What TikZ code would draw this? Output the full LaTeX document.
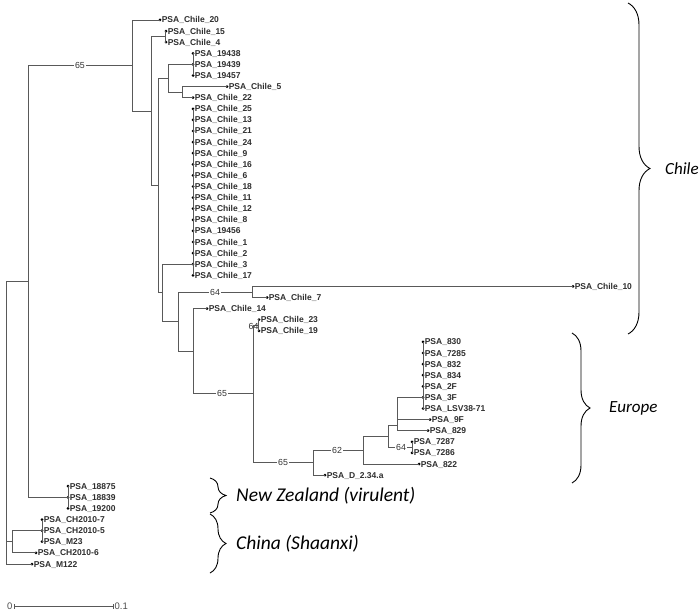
\documentclass[tikz,border=0pt]{standalone}
\usepackage{fontspec}
\setmainfont{Liberation Sans}
\newfontfamily\bracefont{Carlito}
\usetikzlibrary{decorations.pathreplacing}
\tikzset{
  tree/.style={draw=black!65, line width=0.9pt},
  tiplab/.style={anchor=west, inner sep=0pt, xshift=1.6pt, text height=6pt, text depth=0pt,
    font=\fontsize{8.5}{9}\selectfont\bfseries, text=black!82},
  boot/.style={fill=white, inner sep=1pt, text height=6pt, text depth=0pt,
    font=\fontsize{8.8}{9}\selectfont, text=black!80},
  grp/.style={anchor=west, inner sep=0pt, font=\bracefont\itshape\fontsize{17}{20}\selectfont},
  grpbig/.style={grp, font=\bracefont\itshape\fontsize{19.5}{22}\selectfont},
  bracedeco/.style={decorate, decoration={brace, amplitude=#1}, draw=black, line width=0.9pt},
  tipdot/.style={fill=black},
  scalelab/.style={inner sep=1.5pt, font=\fontsize{9.5}{10}\selectfont, text=black!70}
}
\newcommand\tipnode[4]{%
  \coordinate (#1) at (#2,#3);
  \fill[tipdot] (#1) circle (1.5pt);
  \node[tiplab] (#1-l) at (#1) {#4};}
\begin{document}
\begin{tikzpicture}[x=1pt,y=-1pt]
\useasboundingbox (0,0) rectangle (700,612);
% ---------- tips ----------
\tipnode{c20}{160}{20.0}{PSA\_Chile\_20}
\tipnode{c15}{166}{31.1}{PSA\_Chile\_15}
\tipnode{c4}{166}{42.2}{PSA\_Chile\_4}
\tipnode{s19438}{193}{53.3}{PSA\_19438}
\tipnode{s19439}{193}{64.4}{PSA\_19439}
\tipnode{s19457}{193}{75.5}{PSA\_19457}
\tipnode{c5}{227}{86.6}{PSA\_Chile\_5}
\tipnode{c22}{193}{97.7}{PSA\_Chile\_22}
\tipnode{c25}{193}{108.8}{PSA\_Chile\_25}
\tipnode{c13}{193}{119.9}{PSA\_Chile\_13}
\tipnode{c21}{193}{131.0}{PSA\_Chile\_21}
\tipnode{c24}{193}{142.1}{PSA\_Chile\_24}
\tipnode{c9}{193}{153.2}{PSA\_Chile\_9}
\tipnode{c16}{193}{164.3}{PSA\_Chile\_16}
\tipnode{c6}{193}{175.4}{PSA\_Chile\_6}
\tipnode{c18}{193}{186.5}{PSA\_Chile\_18}
\tipnode{c11}{193}{197.6}{PSA\_Chile\_11}
\tipnode{c12}{193}{208.7}{PSA\_Chile\_12}
\tipnode{c8}{193}{219.8}{PSA\_Chile\_8}
\tipnode{s19456}{193}{230.9}{PSA\_19456}
\tipnode{c1}{193}{242.0}{PSA\_Chile\_1}
\tipnode{c2}{193}{253.1}{PSA\_Chile\_2}
\tipnode{c3}{193}{264.2}{PSA\_Chile\_3}
\tipnode{c17}{193}{275.3}{PSA\_Chile\_17}
\tipnode{c10}{573}{286.4}{PSA\_Chile\_10}
\tipnode{c7}{267}{297.5}{PSA\_Chile\_7}
\tipnode{c14}{207}{308.6}{PSA\_Chile\_14}
\tipnode{c23}{259}{319.7}{PSA\_Chile\_23}
\tipnode{c19}{259}{330.8}{PSA\_Chile\_19}
\tipnode{e830}{423}{341.9}{PSA\_830}
\tipnode{e7285}{423}{353.0}{PSA\_7285}
\tipnode{e832}{423}{364.1}{PSA\_832}
\tipnode{e834}{423}{375.2}{PSA\_834}
\tipnode{e2F}{423}{386.3}{PSA\_2F}
\tipnode{e3F}{423}{397.4}{PSA\_3F}
\tipnode{eLSV}{423}{408.5}{PSA\_LSV38-71}
\tipnode{e9F}{430}{419.6}{PSA\_9F}
\tipnode{e829}{428}{430.7}{PSA\_829}
\tipnode{e7287}{412}{441.8}{PSA\_7287}
\tipnode{e7286}{412}{452.9}{PSA\_7286}
\tipnode{e822}{419}{464.0}{PSA\_822}
\tipnode{eD}{325}{475.1}{PSA\_D\_2.34.a}
\tipnode{z18875}{68}{486.2}{PSA\_18875}
\tipnode{z18839}{68}{497.3}{PSA\_18839}
\tipnode{z19200}{68}{508.4}{PSA\_19200}
\tipnode{h7}{42}{519.5}{PSA\_CH2010-7}
\tipnode{h5}{42}{530.6}{PSA\_CH2010-5}
\tipnode{hM23}{42}{541.7}{PSA\_M23}
\tipnode{h6}{36}{552.8}{PSA\_CH2010-6}
\tipnode{hM122}{32}{564.0}{PSA\_M122}
% ---------- internal nodes ----------
\coordinate (root) at (6,420);
\coordinate (n28) at (28,281.5);
\coordinate (n132) at (132,65.6);
\coordinate (n151) at (151,111.1);
\coordinate (n165) at (165,36.65);
\coordinate (n158) at (158,185.6);
\coordinate (n168) at (168,78.3);
\coordinate (n193a) at (193,64.4);
\coordinate (n182) at (182,92.15);
\coordinate (n162) at (162,292.9);
\coordinate (poly) at (193,264.2);
\coordinate (n178) at (178,321.6);
\coordinate (n252) at (252,292);
\coordinate (n193b) at (193,351.3);
\coordinate (n253) at (253,393.9);
\coordinate (n258) at (258,325.25);
\coordinate (n313) at (313,462.5);
\coordinate (n363) at (363,450);
\coordinate (n388) at (388,436);
\coordinate (nA) at (397,425);
\coordinate (n423) at (423,397.4);
\coordinate (n412) at (412,447.35);
\coordinate (n68) at (68,497.3);
\coordinate (n12) at (12,541.7);
\coordinate (n42) at (42,530.6);
% ---------- edges ----------
\draw[tree] (root) |- (n28);
\draw[tree] (root) |- (n12);
\draw[tree] (root) |- (hM122);
\draw[tree] (n28) |- (n132);
\draw[tree] (n28) |- (n68);
\draw[tree] (n132) |- (c20);
\draw[tree] (n132) |- (n151);
\draw[tree] (n151) |- (n165);
\draw[tree] (n151) |- (n158);
\draw[tree] (n165) |- (c15);
\draw[tree] (n165) |- (c4);
\draw[tree] (n158) |- (n168);
\draw[tree] (n158) |- (n162);
\draw[tree] (n168) |- (n193a);
\draw[tree] (n168) |- (n182);
\foreach \t in {s19438,s19439,s19457} \draw[tree] (n193a) |- (\t);
\draw[tree] (n182) |- (c5);
\draw[tree] (n182) |- (c22);
\draw[tree] (n162) |- (poly);
\draw[tree] (n162) |- (n178);
\foreach \t in {c25,c13,c21,c24,c9,c16,c6,c18,c11,c12,c8,s19456,c1,c2,c3,c17} \draw[tree] (poly) |- (\t);
\draw[tree] (n178) |- (n252);
\draw[tree] (n178) |- (n193b);
\draw[tree] (n252) |- (c10);
\draw[tree] (n252) |- (c7);
\draw[tree] (n193b) |- (c14);
\draw[tree] (n193b) |- (n253);
\draw[tree] (n253) |- (n258);
\draw[tree] (n253) |- (n313);
\draw[tree] (n258) |- (c23);
\draw[tree] (n258) |- (c19);
\draw[tree] (n313) |- (n363);
\draw[tree] (n313) |- (eD);
\draw[tree] (n363) |- (n388);
\draw[tree] (n363) |- (e822);
\draw[tree] (n388) |- (nA);
\draw[tree] (n388) |- (n412);
\draw[tree] (nA) |- (n423);
\draw[tree] (nA) |- (e9F);
\draw[tree] (nA) |- (e829);
\foreach \t in {e830,e7285,e832,e834,e2F,e3F,eLSV} \draw[tree] (n423) |- (\t);
\draw[tree] (n412) |- (e7287);
\draw[tree] (n412) |- (e7286);
\foreach \t in {z18875,z18839,z19200} \draw[tree] (n68) |- (\t);
\draw[tree] (n12) |- (n42);
\draw[tree] (n12) |- (h6);
\foreach \t in {h7,h5,hM23} \draw[tree] (n42) |- (\t);
% ---------- bootstrap values ----------
\node[boot] (b1) at (80,65.6) {65};
\node[boot] (b2) at (215,292) {64};
\node[boot] (b3) at (222,393.9) {65};
\node[boot] (b4) at (283,462.5) {65};
\node[boot] (b5) at (337,450) {62};
\node[boot] (b6) at (401,447.35) {64};
\node[boot, fill=none, inner sep=0pt] (b7) at (253.5,326) {64};
% ---------- scale bar ----------
\coordinate (s0) at (14,606);
\coordinate (s1) at (113,606);
\draw[tree, line width=0.6pt] (s0) -- (s1);
\draw[tree, line width=0.6pt] ([yshift=-2.5pt]s0) -- ([yshift=2.5pt]s0);
\draw[tree, line width=0.6pt] ([yshift=-2.5pt]s1) -- ([yshift=2.5pt]s1);
\node[scalelab, anchor=east] (sl0) at (s0) {0};
\node[scalelab, anchor=west] (sl1) at (s1) {0.1};
% ---------- group braces ----------
\coordinate (bc1) at (628,3);   \coordinate (bc2) at (628,334);
\coordinate (be1) at (572,333); \coordinate (be2) at (572,483);
\coordinate (bn1) at (210,478); \coordinate (bn2) at (210,513);
\coordinate (bh1) at (210,514); \coordinate (bh2) at (210,573);
\draw[bracedeco=22pt] (bc1) -- (bc2);
\draw[bracedeco=18pt] (be1) -- (be2);
\draw[bracedeco=16pt] (bn1) -- (bn2);
\draw[bracedeco=16pt] (bh1) -- (bh2);
\node[grp] (gChile) at (665,168.5) {Chile};
\node[grp] (gEurope) at (609,408) {Europe};
\node[grpbig] (gNZ) at (236,495.5) {New Zealand (virulent)};
\node[grpbig] (gChina) at (236,544) {China (Shaanxi)};
\end{tikzpicture}
\end{document}
